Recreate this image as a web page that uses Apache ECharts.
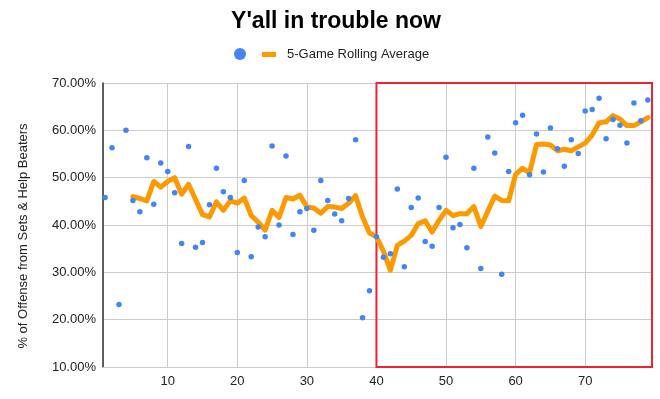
<!DOCTYPE html>
<html>
<head>
<meta charset="utf-8">
<script src="https://cdn.jsdelivr.net/npm/echarts@6/dist/echarts.min.js"></script>
<style>
html,body{margin:0;padding:0;background:#fff;}
#chart{width:660px;height:399px;}
</style>
</head>
<body>
<div id="chart"></div>
<script>
// 数据：每场比赛的比例（%）
var games = [];
for (var g = 1; g <= 79; g++) games.push(g);
var pctValues = [
    45.8, 56.3, 23.2, 60.0, 45.2, 42.8, 54.2, 44.4, 53.1, 51.3,
    46.8, 36.1, 56.6, 35.3, 36.3, 44.3, 52.0, 47.0, 45.8, 34.2,
    49.4, 33.3, 39.6, 37.5, 56.7, 40.0, 54.6, 38.0, 42.8, 43.5,
    38.9, 49.4, 45.2, 42.3, 40.9, 45.6, 58.0, 20.4, 26.1, 37.5,
    33.2, 33.9, 47.6, 31.2, 43.7, 45.7, 36.5, 35.5, 43.7, 54.3,
    39.4, 40.1, 35.2, 52.0, 30.8, 58.6, 55.2, 29.6, 51.3, 61.6,
    63.2, 50.6, 59.2, 51.2, 60.5, 56.1, 52.4, 58.0, 55.1, 64.1,
    64.4, 66.8, 58.2, 62.3, 61.1, 57.3, 65.8, 62.0, 66.4
];
// 5场滚动平均，从第5场开始
var rollingStart = 5;
var rollingValues = [
    46.0, 45.6, 45.1, 49.2, 48.0, 49.2, 50.0, 46.5, 48.6, 45.4,
    42.2, 41.7, 44.9, 43.1, 45.1, 44.6, 45.7, 42.0, 40.6, 38.9,
    43.1, 41.6, 45.8, 45.5, 46.3, 43.8, 43.6, 42.5, 43.9, 43.8,
    43.5, 44.6, 46.2, 41.7, 38.3, 37.5, 34.5, 30.4, 35.7, 36.6,
    37.8, 40.3, 40.9, 38.5, 41.0, 43.1, 42.0, 42.4, 42.4, 43.9,
    39.7, 42.9, 46.1, 45.2, 45.1, 50.7, 52.0, 51.0, 57.0, 57.1,
    56.9, 55.7, 56.0, 55.7, 56.5, 57.3, 59.0, 61.6, 61.8, 63.1,
    62.4, 61.0, 61.0, 61.8, 62.7
];
// 红框标注范围
var highlightFrom = 40;
var xMin = 0.7, xMax = 79.6;

var scatterData = games.map(function (x, i) { return [x, pctValues[i]]; });
var lineData = rollingValues.map(function (v, i) { return [rollingStart + i, v]; });

var chart = echarts.init(document.getElementById('chart'));
var font = 'Liberation Sans, Arial, sans-serif';
chart.setOption({
    animation: false,
    textStyle: { fontFamily: font },
    title: {
        text: "Y'all in trouble now",
        left: 336,
        textAlign: 'center',
        top: 10,
        padding: 0,
        textStyle: { fontSize: 23, fontWeight: 'bold', color: '#000', fontFamily: font }
    },
    legend: [{
        data: ['Games'],
        left: 229,
        top: 43,
        icon: 'circle',
        itemWidth: 12,
        itemHeight: 12,
        formatter: function () { return ''; }
    }, {
        data: ['5-Game Rolling Average'],
        left: 257,
        top: 43,
        icon: 'path://M0,0H14V5H0Z',
        itemWidth: 14,
        itemHeight: 12,
        textStyle: { fontSize: 13, color: '#222', fontFamily: font, padding: [0, 0, 0, 6] }
    }],
    grid: { left: 103, right: 8, top: 83, bottom: 32, containLabel: false },
    xAxis: {
        type: 'value',
        min: xMin,
        max: xMax,
        splitNumber: 8,
        axisLine: { show: true, onZero: false, lineStyle: { color: '#cccccc', width: 1 } },
        axisTick: { show: false },
        splitLine: { show: true, lineStyle: { color: '#cccccc', width: 1 } },
        axisLabel: {
            color: '#222', fontSize: 13, margin: 8, fontFamily: font,
            showMinLabel: false, showMaxLabel: false,
            formatter: function (v) { return v % 10 === 0 ? String(v) : ''; }
        }
    },
    yAxis: {
        type: 'value',
        min: 10,
        max: 70,
        interval: 10,
        name: '% of Offense from Sets & Help Beaters',
        nameLocation: 'middle',
        nameGap: 73,
        nameTextStyle: { fontSize: 13, color: '#222', fontFamily: font, padding: [0, 22, 0, 0] },
        axisLine: { show: true, lineStyle: { color: '#333', width: 1.5 } },
        axisTick: { show: false },
        splitLine: { show: true, lineStyle: { color: '#cccccc', width: 1 } },
        axisLabel: {
            color: '#222', fontSize: 13, margin: 7, fontFamily: font,
            formatter: function (v) { return v.toFixed(2) + '%'; }
        }
    },
    series: [{
        name: 'Games',
        type: 'scatter',
        data: scatterData,
        symbolSize: 5.5,
        itemStyle: { color: '#4285f4', opacity: 1 },
        z: 3
    }, {
        name: '5-Game Rolling Average',
        type: 'line',
        data: lineData,
        showSymbol: false,
        symbol: 'none',
        clip: false,
        lineStyle: { color: '#ff9900', width: 5, join: 'round', cap: 'round' },
        itemStyle: { color: '#ff9900' },
        z: 2,
        markArea: {
            silent: true,
            itemStyle: { color: 'rgba(0,0,0,0)', borderColor: '#ee2233', borderWidth: 2 },
            data: [[{ coord: [highlightFrom, 70] }, { coord: [xMax, 10] }]]
        }
    }]
});
</script>
</body>
</html>
